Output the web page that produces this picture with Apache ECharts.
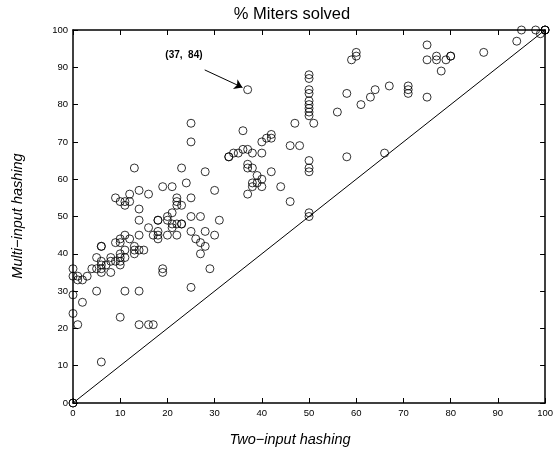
<!DOCTYPE html>
<html>
<head>
<meta charset="utf-8">
<script src="https://cdn.jsdelivr.net/npm/echarts@6/dist/echarts.min.js"></script>
<style>
html,body{margin:0;padding:0;background:#fff;}
#c{width:556px;height:451px;}
</style>
</head>
<body>
<div id="c"></div>
<script>
// Data: [two-input hashing %, multi-input hashing %]
var lowPoints = [
  [0,0],[0,0],[0,36],[0,34],[1,34],[1,33],[2,33],[3,34],[0,29],[2,27],[0,24],[1,21],
  [4,36],[5,39],[5,36],[5,30],[6,42],[6,42],[6,38],[6,37],[6,36],[6,35],[7,37],[6,11],
  [8,39],[8,38],[8,35],[9,38],[9,43],[10,44],[10,43],[10,40],[10,39],[10,38],[10,37],[10,23],
  [11,45],[11,41],[11,39],[11,30],[12,44],[13,42],[13,41],[13,40],
  [14,45],[14,41],[14,49],[14,30],[14,21],[15,41],[16,21],[17,21],[16,47],[17,45],
  [18,49],[18,49],[18,46],[18,45],[18,44],[19,36],[19,35],
  [20,50],[20,49],[20,45],[21,51],[21,48],[21,47],[22,48],[22,45],[23,48],[23,48],
  [25,50],[25,46],[25,31],[26,44],[27,50],[27,43],[27,40],[28,46],[28,42],[29,36],[30,45],[31,49]
];
var upperLeftPoints = [
  [9,55],[10,54],[11,54],[11,53],[12,56],[12,54],[13,63],[14,57],[14,52],[16,56],
  [19,58],[21,58],[22,55],[22,54],[22,53],[23,53],[23,63],[24,59],[25,55],[28,62],[30,57],
  [25,75],[25,70]
];
var middlePoints = [
  [33,66],[33,66],[34,67],[35,67],[36,68],[37,68],[38,67],[40,67],[36,73],[37,84],
  [40,70],[41,71],[42,72],[42,71],
  [37,64],[37,63],[38,63],[42,62],[39,61],[38,59],[39,59],[40,60],[38,58],[40,58],[37,56],[44,58],[46,54],
  [47,75],[46,69],[48,69]
];
var fiftyColumn = [
  [50,88],[50,87],[50,84],[50,83],[50,81],[50,80],[50,79],[50,78],[50,77],[51,75],
  [50,65],[50,63],[50,62],[50,51],[50,50]
];
var rightPoints = [
  [56,78],[58,83],[61,80],[63,82],[64,84],[67,85],[71,85],[71,84],[71,83],[75,82],[58,66],[66,67],
  [59,92],[60,94],[60,93],
  [75,96],[77,93],[77,92],[75,92],[79,92],[80,93],[80,93],[78,89],[87,94],
  [94,97],[95,100],[98,100],[99,99],[100,100],[100,100],[100,100]
];
var diagonal = [[0,0],[100,100]];
var annotatedPoint = [37,84];
var annotationText = '(37,  84)';
var arrowFrom = [27.9,89.3];
var arrowTo = [35.9,84.6];
var labelAt = [23.5,93.2];

var allPoints = lowPoints.concat(upperLeftPoints, middlePoints, fiftyColumn, rightPoints);

var FONT = '"Liberation Sans", Arial, Helvetica, sans-serif';
var chart = echarts.init(document.getElementById('c'), null, {renderer:'canvas'});

function axisCommon(showLabel, pos){
  return {
    type:'value', min:0, max:100, interval:10, position:pos,
    axisLine:{show:true, onZero:false, lineStyle:{color:'#000', width:1.5}},
    axisTick:{show:true, inside:true, length:5, lineStyle:{color:'#000', width:1}},
    axisLabel:{show:showLabel, color:'#000', fontSize:9.5, fontFamily:FONT, margin:5},
    splitLine:{show:false}
  };
}

var option = {
  animation:false,
  backgroundColor:'#fff',
  grid:{left:73, right:7, top:30, bottom:48, containLabel:false},
  xAxis:[axisCommon(true,'bottom'), axisCommon(false,'top')],
  yAxis:[axisCommon(true,'left'), axisCommon(false,'right')],
  series:[
    {
      type:'line', data:diagonal, showSymbol:false, symbol:'none',
      lineStyle:{color:'#000', width:1}, silent:true, z:1
    },
    {
      type:'scatter', data:allPoints, symbol:'circle', symbolSize:8,
      itemStyle:{color:'rgba(0,0,0,0)', borderColor:'#000', borderWidth:1},
      z:3,
      markLine:{
        silent:true, symbol:['none','arrow'], symbolSize:8,
        lineStyle:{color:'#000', width:1, type:'solid'},
        itemStyle:{color:'#000'},
        label:{show:false},
        data:[[{coord:arrowFrom},{coord:arrowTo}]]
      },
      markPoint:{
        silent:true, symbol:'circle', symbolSize:1,
        itemStyle:{color:'rgba(0,0,0,0)'},
        label:{show:true, position:'inside', formatter:annotationText, color:'#000',
               fontFamily:FONT, fontSize:10, fontWeight:'bold'},
        data:[{coord:labelAt}]
      }
    }
  ],
  graphic:[
    {type:'text', x:292, y:14, style:{text:'% Miters solved', fontFamily:FONT, fontSize:16.5,
      fill:'#000', textAlign:'center', textVerticalAlign:'middle'}},
    {type:'text', x:290, y:440, style:{text:'Two\u2212input hashing', fontFamily:FONT, fontSize:14.5,
      fontStyle:'italic', fill:'#000', textAlign:'center', textVerticalAlign:'middle'}},
    {type:'text', x:18, y:216, rotation:Math.PI/2, style:{text:'Multi\u2212input hashing', fontFamily:FONT,
      fontSize:14.5, fontStyle:'italic', fill:'#000', textAlign:'center', textVerticalAlign:'middle'}}
  ]
};
chart.setOption(option);
</script>
</body>
</html>
